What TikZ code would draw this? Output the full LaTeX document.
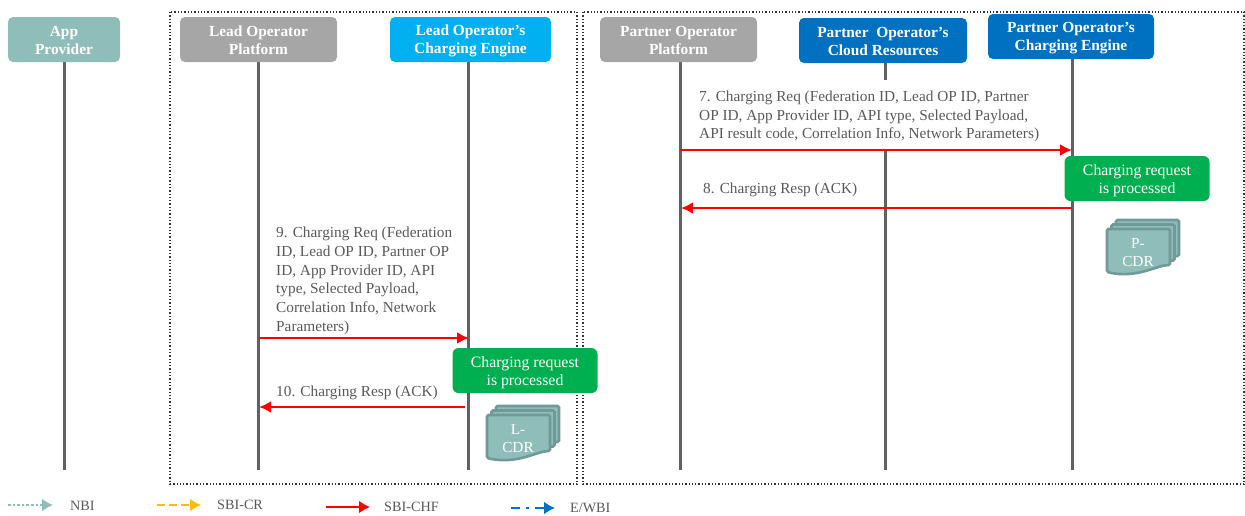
\documentclass[tikz,border=0pt]{standalone}
\usepackage{fontspec}
\setmainfont{Liberation Serif}
\usetikzlibrary{arrows.meta,calc,positioning}

\definecolor{tealhead}{HTML}{8FBDB9}
\definecolor{tealdark}{HTML}{6F9A97}
\definecolor{greyhead}{HTML}{A6A6A6}
\definecolor{lightblue}{HTML}{00B0F0}
\definecolor{darkblue}{HTML}{0070C0}
\definecolor{greenbox}{HTML}{00B050}
\definecolor{msgtext}{HTML}{595959}
\newcommand{\headlift}{\rule{0pt}{13pt}}
\newcommand{\donelift}{\rule{0pt}{15pt}}

\begin{document}
\begin{tikzpicture}[
      x=1pt,y=-1pt,
      >=Latex,
      head/.style={rectangle,rounded corners=5pt,text=white,font=\fontsize{15.4}{18}\selectfont\bfseries,align=center,inner sep=0pt,minimum height=45pt},
      lifeline/.style={draw=black!62,line width=3pt},
      reqmsg/.style={red,line width=2.8pt,-{Latex[length=12pt,width=12pt]}},
      msgtext/.style={text=msgtext,font=\fontsize{15.3}{18.7}\selectfont,align=left,anchor=north west,inner sep=0pt},
      donebox/.style={rectangle,rounded corners=6pt,fill=greenbox,text=white,font=\fontsize{15.8}{18.5}\selectfont,align=center,inner sep=0pt,minimum width=145pt,minimum height=45pt},
      group/.style={draw=black!80,dotted,line width=1.3pt},
      sheet/.style={draw=tealdark,fill=tealhead,line width=2.6pt,rounded corners=1.5pt},
      legendtext/.style={text=msgtext,font=\fontsize{14.2}{16}\selectfont,anchor=west,inner sep=0pt},
      legendtip/.style={-{Latex[length=11pt,width=13pt]}}
    ]
    \useasboundingbox (0,0) rectangle (1245,515);

    % domains
    \draw[group] (170,12) rectangle (577,484);
    \draw[group] (583,12) rectangle (1244,484);

    % bottom ends of the lifelines
    \coordinate (appEnd) at (64,470);
    \coordinate (leadEnd) at (258,470);
    \coordinate (leadChgEnd) at (468,470);
    \coordinate (partEnd) at (680,470);
    \coordinate (cloudEnd) at (885,470);
    \coordinate (partChgEnd) at (1072,470);
    \coordinate (cloudGapA) at (885,80);
    \coordinate (cloudGapB) at (885,150);

    \draw[lifeline] (64,62) -- (appEnd);
    \draw[lifeline] (258,62) -- (leadEnd);
    \draw[lifeline] (468,62) -- (leadChgEnd);
    \draw[lifeline] (680,62) -- (partEnd);
    \draw[lifeline] (885,63) -- (cloudGapA);
    \draw[lifeline] (cloudGapB) -- (cloudEnd);
    \draw[lifeline] (1072,59) -- (partChgEnd);

    \node[head,fill=tealhead,minimum width=112pt] (app) at (64,39.5) {\headlift App\\Provider};
    \node[head,fill=greyhead,minimum width=157pt] (lead) at (258.5,39.5) {\headlift Lead Operator\\Platform};
    \node[head,fill=lightblue,minimum width=161pt] (leadChg) at (470.5,39.5) {\headlift Lead Operator’s\\Charging Engine};
    \node[head,fill=greyhead,minimum width=157pt] (part) at (678.5,39.5) {\headlift Partner Operator\\Platform};
    \node[head,fill=darkblue,minimum width=168pt] (cloud) at (883,40.5) {\headlift Partner\ \ Operator’s\\Cloud Resources};
    \node[head,fill=darkblue,minimum width=166pt] (partChg) at (1071,36.5) {\headlift Partner Operator’s\\Charging Engine};

    % messages
    \node[msgtext] (m7) at (699,90.5) {7. Charging Req (Federation ID, Lead OP ID, Partner\\OP ID, App Provider ID, API type, Selected Payload,\\API result code, Correlation Info, Network Parameters)};
    \node[msgtext] (m8) at (703,183) {8. Charging Resp (ACK)};
    \node[msgtext] (m9) at (276,227) {9. Charging Req (Federation\\ID, Lead OP ID, Partner OP\\ID, App Provider ID, API\\type, Selected Payload,\\Correlation Info, Network\\Parameters)};
    \node[msgtext] (m10) at (276,386) {10. Charging Resp (ACK)};

    \coordinate (r7a) at (680,150);
    \coordinate (r7b) at (1072,150);
    \coordinate (r8a) at (1072,208);
    \coordinate (r8b) at (681,208);
    \coordinate (r9a) at (259,338);
    \coordinate (r9b) at (469,338);
    \coordinate (r10a) at (465,407);
    \coordinate (r10b) at (259,407);
    \draw[reqmsg] (r7a) -- (r7b);
    \draw[reqmsg] (r8a) -- (r8b);
    \draw[reqmsg] (r9a) -- (r9b);
    \draw[reqmsg] (r10a) -- (r10b);

    \node[donebox] (doneP) at (1137,178.5) {\donelift Charging request\\is processed};
    \node[donebox] (doneL) at (525,370.5) {\donelift Charging request\\is processed};

    % CDR stacks
    \foreach \ox/\oy/\cdr in {487/415/L-\\CDR,1107/229/P-\\CDR}{
      \begin{scope}[shift={(\ox,\oy)}]
        \foreach \d in {9,4.5,0}{
          \draw[sheet] (\d,-\d) -- (63+\d,-\d) -- (63+\d,36-\d) .. controls (50+\d,36-\d) and (30+\d,50-\d) .. (\d,43-\d) -- cycle;
        }
        \node[text=white,font=\fontsize{15.3}{18}\selectfont,align=center,inner sep=0pt] at (31,24) {\cdr};
      \end{scope}
    }

    % legend
    \coordinate (nbiA) at (8,505);
    \coordinate (nbiB) at (53,505);
    \coordinate (crA) at (157,505);
    \coordinate (crB) at (201,505);
    \coordinate (chfA) at (326,507);
    \coordinate (chfB) at (370,507);
    \coordinate (ewA) at (511,508);
    \coordinate (ewB) at (555,508);
    \draw[draw=tealhead,dotted,line width=2.6pt,legendtip] (nbiA) -- (nbiB);
    \draw[draw=orange!50!yellow,dash pattern=on 8pt off 4pt,line width=2.6pt,legendtip] (crA) -- (crB);
    \draw[red,line width=2.8pt,legendtip] (chfA) -- (chfB);
    \draw[draw=darkblue,dash pattern=on 9pt off 6pt on 2.6pt off 6pt,line width=2.6pt,legendtip] (ewA) -- (ewB);
    \node[legendtext] (nbi) at (70,506) {NBI};
    \node[legendtext] (cr) at (217,505) {SBI-CR};
    \node[legendtext] (chf) at (384,507) {SBI-CHF};
    \node[legendtext] (ew) at (570,508) {E/WBI};
  \end{tikzpicture}
\end{document}
